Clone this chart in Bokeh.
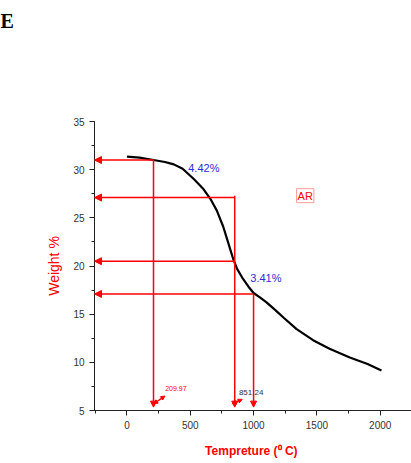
from bokeh.plotting import figure
from bokeh.models import Arrow, NormalHead, Label, Range1d, SingleIntervalTicker, Title
from bokeh.embed import file_html
from bokeh.resources import INLINE

# --- data ---
temps = [0, 100, 210, 300, 370, 440, 530, 600, 660, 710, 760, 800, 840, 870,
         910, 960, 1000, 1050, 1100, 1170, 1240, 1340, 1470, 1600, 1760, 1900, 2010]
weight = [31.35, 31.25, 31.0, 30.8, 30.55, 30.1, 29.0, 28.05, 26.95, 25.75, 24.1,
          22.4, 20.7, 19.7, 18.8, 17.85, 17.2, 16.75, 16.25, 15.45, 14.6, 13.45,
          12.3, 11.4, 10.5, 9.82, 9.15]

# guide arrows: horizontal levels (weight %) and the temperature where each ends
level_weights = [31.0, 27.1, 20.5, 17.1]
level_temps = [209.97, 851.24, 851.24, 1000]
# vertical drop lines
vert_temps = [209.97, 851.24, 1000]
vert_tops = [31.0, 27.3, 17.1]
vert_bottom = 5.35

# small diagonal pointers (start temp, start weight, end temp, end weight)
diag_x0 = [212, 832]
diag_y0 = [5.7, 5.7]
diag_x1 = [300, 910]
diag_y1 = [6.5, 6.15]

temp_labels = ["209.97", "851.24"]
temp_label_x = [302, 884]
temp_label_y = [7.0, 6.6]
temp_label_colors = ["red", "#333333"]
temp_label_sizes = ["7px", "8px"]

loss_labels = ["4.42%", "3.41%"]
loss_x = [484, 974]
loss_y = [30.2, 18.8]
sample_name = "AR"

X0, X1 = -256, 2247
p = figure(width=411, height=463, x_range=Range1d(X0, X1), y_range=Range1d(5, 35),
           output_backend="svg", toolbar_location=None,
           min_border_left=94, min_border_top=121, min_border_right=0,
           min_border_bottom=53)
p.outline_line_color = None
p.xgrid.visible = False
p.ygrid.visible = False
p.background_fill_color = "white"

# panel label "E" at the top-left corner, lifted by an empty spacer title
p.title.text = "E"
p.title.align = "left"
p.title.offset = -94
p.title.standoff = 0
p.title.vertical_align = "middle"
p.title.text_font = "Liberation Serif"
p.title.text_font_style = "bold"
p.title.text_font_size = "20px"
p.title.text_color = "black"
p.add_layout(Title(text=" ", text_font_size="2px", standoff=85), "above")

p.xaxis.ticker = SingleIntervalTicker(interval=500, num_minor_ticks=2)
p.yaxis.ticker = SingleIntervalTicker(interval=5, num_minor_ticks=2)
for ax in (p.xaxis[0], p.yaxis[0]):
    ax.axis_line_color = "#222222"
    ax.major_tick_line_color = "#222222"
    ax.minor_tick_line_color = "#222222"
    ax.major_tick_out = 5
    ax.major_tick_in = 0
    ax.minor_tick_out = 3
    ax.minor_tick_in = 0
    ax.major_label_text_font = "Liberation Sans"
    ax.major_label_text_font_size = "10px"
    ax.major_label_text_color = "#333333"
    ax.axis_label_text_color = "red"

p.xaxis.axis_label = "Tempreture  (\u2070 C)"
p.xaxis.axis_label_text_font = "Liberation Sans"
p.xaxis.axis_label_text_font_style = "bold"
p.xaxis.axis_label_text_font_size = "12px"
p.xaxis.major_label_standoff = 5
p.xaxis.axis_label_standoff = 12

p.yaxis.axis_label = "Weight %"
p.yaxis.axis_label_text_font = "Liberation Sans"
p.yaxis.axis_label_text_font_style = "normal"
p.yaxis.axis_label_text_font_size = "14px"
p.yaxis.major_label_standoff = 5
p.yaxis.axis_label_standoff = 8

red_head = dict(line_color="red", fill_color="red")
# horizontal arrows to the weight axis
for w, t in zip(level_weights, level_temps):
    p.add_layout(Arrow(x_start=t, y_start=w, x_end=X0, y_end=w,
                       line_color="red", line_width=1.5,
                       end=NormalHead(size=7, **red_head)))
# vertical arrows down to the temperature axis
for t, top in zip(vert_temps, vert_tops):
    p.add_layout(Arrow(x_start=t, y_start=top, x_end=t, y_end=vert_bottom,
                       line_color="red", line_width=1.5,
                       end=NormalHead(size=6, **red_head)))
# small diagonal pointer arrows from the labels
for xa, ya, xb, yb in zip(diag_x0, diag_y0, diag_x1, diag_y1):
    p.add_layout(Arrow(x_start=xa, y_start=ya, x_end=xb, y_end=yb,
                       line_color="red", line_width=1.5,
                       start=NormalHead(size=4, **red_head),
                       end=NormalHead(size=4, **red_head)))

# TGA curve
p.line(temps, weight, line_color="black", line_width=2.2)

# temperature labels
for txt, lx, ly, c, fs in zip(temp_labels, temp_label_x, temp_label_y,
                              temp_label_colors, temp_label_sizes):
    p.add_layout(Label(x=lx, y=ly, text=txt, text_color=c,
                       text_font="Liberation Sans", text_font_size=fs,
                       text_baseline="bottom"))

for txt, lx, ly in zip(loss_labels, loss_x, loss_y):
    p.add_layout(Label(x=lx, y=ly, text=txt, text_color="#2b2bd6",
                       text_font="Liberation Sans", text_font_size="11px",
                       text_baseline="middle"))

p.add_layout(Label(x=1408, y=27.3, text=sample_name, text_color="red",
                   text_font="Liberation Sans", text_font_size="11px",
                   text_align="center", text_baseline="middle",
                   border_line_color="#ff9a9a", border_line_width=1, padding=1))

open("out.html", "w").write(file_html(p, INLINE))
